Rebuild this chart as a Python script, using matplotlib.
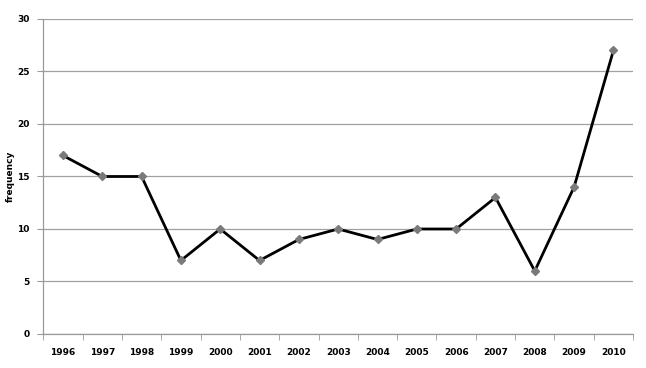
import matplotlib
matplotlib.use("Agg")
import matplotlib.pyplot as plt
import numpy as np

years = ["1996", "1997", "1998", "1999", "2000", "2001", "2002", "2003",
         "2004", "2005", "2006", "2007", "2008", "2009", "2010"]
frequency = [17, 15, 15, 7, 10, 7, 9, 10, 9, 10, 10, 13, 6, 14, 27]
yticks = [0, 5, 10, 15, 20, 25, 30]

fig = plt.figure(figsize=(6.46, 3.68), dpi=100)
ax = fig.add_axes([0.067, 0.0924, 0.913, 0.856])

x = np.arange(len(years))
ax.plot(x, frequency, color="black", lw=2.0, zorder=3)
ax.plot(x, frequency, ls="none", marker="D", ms=4.5, mfc="#7a7a7a", mec="#7a7a7a", zorder=4)

ax.set_xlim(-0.5, len(years) - 0.5)
ax.set_ylim(0, 30)
ax.set_yticks(yticks)
ax.set_yticklabels([str(t) for t in yticks], fontsize=6.5, fontweight="bold")
ax.set_xticks(x)
ax.set_xticklabels(years, fontsize=6.5, fontweight="bold")
ax.tick_params(axis="x", length=0, pad=10)
ax.set_xticks(np.arange(-0.5, len(years), 1), minor=True)
ax.tick_params(axis="x", which="minor", length=4, color="#999999", direction="out")
ax.tick_params(axis="y", length=4, color="#999999", pad=6)

ax.yaxis.grid(True, color="#a0a0a0", lw=0.9)
ax.set_axisbelow(True)
for s in ["top", "right"]:
    ax.spines[s].set_visible(False)
for s in ["left", "bottom"]:
    ax.spines[s].set_color("#999999")
    ax.spines[s].set_linewidth(0.9)

ax.set_ylabel("frequency", fontsize=6.5, fontweight="bold")
ax.yaxis.set_label_coords(-0.048, 0.5)

fig.savefig("out.png", dpi=100)
